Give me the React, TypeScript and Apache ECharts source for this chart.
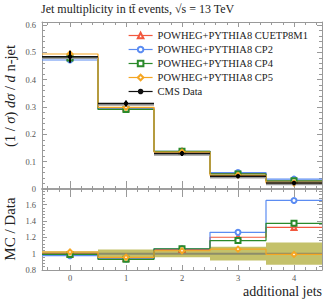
import React, { useEffect, useRef } from "react";
import * as echarts from "echarts";

// ---- data ----
const binCenters = [0, 1, 2, 3, 4];
const xTickLabels = [0, 1, 2, 3, 4];
const topYTicks = [0, 0.1, 0.2, 0.3, 0.4, 0.5, 0.6];
const ratioYTicks = [0.8, 1, 1.2, 1.4, 1.6];

const cmsData = [0.484, 0.313, 0.130, 0.047, 0.022];
const cmsErr = [0.022, 0.011, 0.009, 0.005, 0.004];
const cuetp8m1 = [0.483, 0.296, 0.137, 0.056, 0.029];
const cp2 = [0.472, 0.293, 0.138, 0.060, 0.036];
const cp4 = [0.479, 0.291, 0.138, 0.055, 0.030];
const cp5 = [0.494, 0.299, 0.135, 0.050, 0.022];

const cuetp8m1Ratio = [0.995, 0.945, 1.05, 1.20, 1.32];
const cp2Ratio = [0.975, 0.935, 1.06, 1.26, 1.65];
const cp4Ratio = [0.99, 0.93, 1.06, 1.16, 1.37];
const cp5Ratio = [1.02, 0.955, 1.035, 1.055, 0.99];
const dataRelUnc = [0.03, 0.05, 0.045, 0.085, 0.135];

const names = [
  "POWHEG+PYTHIA8 CUETP8M1",
  "POWHEG+PYTHIA8 CP2",
  "POWHEG+PYTHIA8 CP4",
  "POWHEG+PYTHIA8 CP5",
];
const colors = ["#f2583e", "#5b8cf2", "#2a8a2a", "#f5a623"];
const symbols = ["emptyTriangle", "emptyCircle", "emptyRect", "emptyDiamond"];

const FONT = "Liberation Serif";
const AX = "#999";

function stepPoints(vals: number[]) {
  const pts: any[] = [];
  vals.forEach((v, k) => {
    const c = binCenters[k];
    pts.push({ value: [c - 0.5, v], symbol: "none" });
    pts.push({ value: [c, v] });
    pts.push({ value: [c + 0.5, v], symbol: "none" });
  });
  return pts;
}

function minorList(min: number, max: number, step: number, majors: number[]) {
  const out: number[] = [];
  const n = Math.round((max - min) / step);
  for (let k = 0; k <= n; k++) {
    const v = Math.round((min + k * step) * 1000) / 1000;
    if (!majors.some((m) => Math.abs(m - v) < 1e-6)) out.push(v);
  }
  return out;
}

export default function App() {
  const ref = useRef<HTMLDivElement>(null);
  useEffect(() => {
    if (!ref.current) return;
    const chart = echarts.init(ref.current, undefined, { renderer: "svg" });

    const xMinor = minorList(-0.4, 4.4, 0.2, binCenters);
    const yTopMinor = minorList(0, 0.6, 0.02, topYTicks);
    const yRatioMinor = minorList(0.8, 1.76, 0.04, ratioYTicks);

    const xBase = { type: "value", min: -0.5, max: 4.5, splitLine: { show: false } };
    const tickAxis = (grid: number, pos: string, vals: number[], len: number, line: boolean, labels: boolean, lw = 1) => ({
      ...xBase,
      gridIndex: grid,
      position: pos,
      axisLine: { show: line, onZero: false, lineStyle: { color: AX, width: lw } },
      axisTick: { show: true, inside: true, length: len, customValues: vals, lineStyle: { color: AX } },
      axisLabel: labels
        ? { show: true, customValues: xTickLabels, fontFamily: FONT, fontSize: 8.5, color: "#555", margin: 3 }
        : { show: false },
    });

    const yTop = { type: "value", min: 0, max: 0.611, splitLine: { show: false } };
    const yRat = { type: "value", min: 0.8, max: 1.79, splitLine: { show: false } };
    const yTickAxis = (base: any, grid: number, pos: string, vals: number[], len: number, line: boolean, labels: number[] | null) => ({
      ...base,
      gridIndex: grid,
      position: pos,
      axisLine: { show: line, onZero: false, lineStyle: { color: AX } },
      axisTick: { show: true, inside: true, length: len, customValues: vals, lineStyle: { color: AX } },
      axisLabel: labels
        ? { show: true, customValues: labels, fontFamily: FONT, fontSize: 8.5, color: "#555", margin: 6 }
        : { show: false },
    });

    const series: any[] = [];
    [cuetp8m1, cp2, cp4, cp5].forEach((vals, k) => {
      series.push({
        name: names[k],
        type: "line",
        xAxisIndex: 0,
        yAxisIndex: 0,
        data: stepPoints(vals),
        symbol: symbols[k],
        symbolSize: 5,
        showSymbol: true,
        showAllSymbol: true,
        color: colors[k],
        lineStyle: { color: colors[k], width: 1.2 },
        itemStyle: { color: colors[k], borderWidth: 1 },
        z: 3 + k,
      });
    });
    series.push({
      name: "CMS Data",
      type: "line",
      xAxisIndex: 0,
      yAxisIndex: 0,
      data: [],
      symbol: "circle",
      symbolSize: 4,
      color: "#111",
      lineStyle: { color: "#111", width: 1.5 },
    });
    series.push({
      type: "custom",
      xAxisIndex: 0,
      yAxisIndex: 0,
      z: 10,
      data: binCenters.map((c, k) => [c, cmsData[k], cmsErr[k]]),
      encode: { x: 0, y: 1 },
      renderItem: (params: any, api: any) => {
        const c = api.value(0), v = api.value(1), e = api.value(2);
        const l = api.coord([c - 0.5, v]);
        const r = api.coord([c + 0.5, v]);
        const p = api.coord([c, v]);
        const t = api.coord([c, v + e]);
        const b = api.coord([c, v - e]);
        return {
          type: "group",
          children: [
            { type: "line", shape: { x1: l[0], y1: l[1] + 1.5, x2: r[0], y2: r[1] + 1.5 }, style: { stroke: "#999", lineWidth: 1.5 } },
            { type: "line", shape: { x1: l[0], y1: l[1], x2: r[0], y2: r[1] }, style: { stroke: "#111", lineWidth: 1.5 } },
            { type: "line", shape: { x1: t[0], y1: t[1], x2: b[0], y2: b[1] }, style: { stroke: "#000", lineWidth: 2 } },
            { type: "circle", shape: { cx: p[0], cy: p[1], r: 2.2 }, style: { fill: "#000" } },
          ],
        };
      },
    });

    series.push({
      type: "custom",
      xAxisIndex: 4,
      yAxisIndex: 4,
      z: 1,
      data: binCenters.map((c, k) => [c, 1, dataRelUnc[k]]),
      encode: { x: 0, y: 1 },
      renderItem: (params: any, api: any) => {
        const c = api.value(0), v = api.value(1), u = api.value(2);
        const tl = api.coord([c - 0.5, v + u]);
        const br = api.coord([c + 0.5, v - u]);
        const l = api.coord([c - 0.5, v]);
        const r = api.coord([c + 0.5, v]);
        return {
          type: "group",
          children: [
            { type: "rect", shape: { x: tl[0], y: tl[1], width: br[0] - tl[0], height: br[1] - tl[1] }, style: { fill: "#c4c16a" } },
            { type: "line", shape: { x1: l[0], y1: l[1], x2: r[0], y2: r[1] }, style: { stroke: "#8d8d6a", lineWidth: 2 } },
          ],
        };
      },
    });
    [cuetp8m1Ratio, cp2Ratio, cp4Ratio, cp5Ratio].forEach((vals, k) => {
      series.push({
        name: names[k] + " ratio",
        type: "line",
        xAxisIndex: 4,
        yAxisIndex: 4,
        data: stepPoints(vals),
        symbol: symbols[k],
        symbolSize: 5,
        showSymbol: true,
        showAllSymbol: true,
        lineStyle: { color: colors[k], width: 1.2 },
        itemStyle: { color: colors[k], borderWidth: 1 },
        z: 3 + k,
      });
    });

    const option: any = {
      animation: false,
      grid: [
        { left: 42, right: 10, top: 22, height: 167 },
        { left: 42, right: 10, top: 189, height: 81 },
      ],
      legend: {
        data: [...names, "CMS Data"],
        orient: "vertical",
        left: 123,
        top: 25,
        itemWidth: 24,
        itemHeight: 7,
        itemGap: 3,
        lineStyle: { width: 1.2 },
        itemStyle: { borderWidth: 1 },
        textStyle: { fontFamily: FONT, fontSize: 10.5, color: "#222", padding: [0, 0, 0, 0] },
      },
      xAxis: [
        tickAxis(0, "bottom", binCenters, 8, true, false, 1.5),
        tickAxis(0, "bottom", xMinor, 3, false, false),
        tickAxis(0, "top", binCenters, 5, true, false),
        tickAxis(0, "top", xMinor, 3, false, false),
        tickAxis(1, "bottom", binCenters, 5, true, true),
        tickAxis(1, "bottom", xMinor, 3, false, false),
        tickAxis(1, "top", binCenters, 8, true, false, 1.5),
        tickAxis(1, "top", xMinor, 3, false, false),
      ],
      yAxis: [
        yTickAxis(yTop, 0, "left", topYTicks, 5, true, topYTicks),
        yTickAxis(yTop, 0, "left", yTopMinor, 3, false, null),
        yTickAxis(yTop, 0, "right", topYTicks, 5, true, null),
        yTickAxis(yTop, 0, "right", yTopMinor, 3, false, null),
        yTickAxis(yRat, 1, "left", ratioYTicks, 5, true, ratioYTicks),
        yTickAxis(yRat, 1, "left", yRatioMinor, 3, false, null),
        yTickAxis(yRat, 1, "right", ratioYTicks, 5, true, null),
        yTickAxis(yRat, 1, "right", yRatioMinor, 3, false, null),
      ],
      graphic: [
        {
          type: "text",
          left: 41,
          top: 3,
          style: {
            text: "Jet multiplicity in tt\u0304 events, \u221As = 13 TeV",
            fontFamily: FONT,
            fontSize: 12,
            fill: "#222",
          },
        },
        {
          type: "text",
          x: 10,
          y: 96,
          rotation: Math.PI / 2,
          style: {
            text: "(1 / {i|\u03C3}) {i|d\u03C3} / {i|d} n-jet",
            fontFamily: FONT,
            fontSize: 14.5,
            fill: "#222",
            align: "center",
            verticalAlign: "middle",
            rich: { i: { fontFamily: FONT, fontStyle: "italic", fontSize: 14.5, fill: "#222" } },
          },
        },
        {
          type: "text",
          x: 10,
          y: 229,
          rotation: Math.PI / 2,
          style: {
            text: "MC / Data",
            fontFamily: FONT,
            fontSize: 15,
            fill: "#222",
            align: "center",
            verticalAlign: "middle",
          },
        },
        {
          type: "text",
          right: 10,
          top: 284,
          style: {
            text: "additional jets",
            fontFamily: FONT,
            fontSize: 14,
            fill: "#222",
          },
        },
      ],
      series,
    };
    chart.setOption(option);
    return () => chart.dispose();
  }, []);
  return <div ref={ref} style={{ position: "absolute", left: 0, top: 0, width: 332, height: 301 }} />;
}
